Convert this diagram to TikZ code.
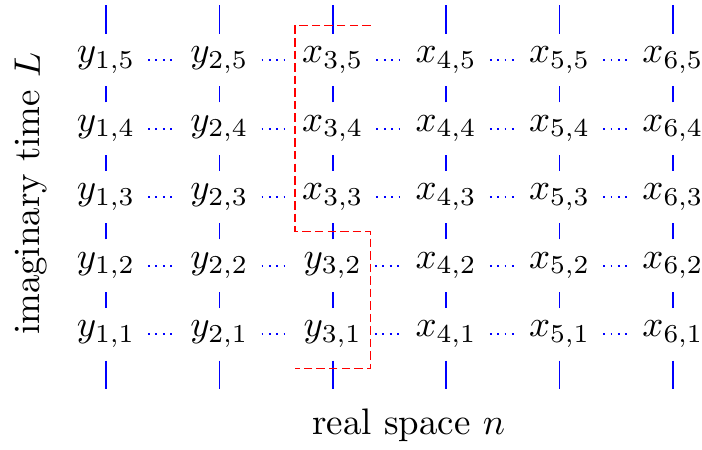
\documentclass[tikz,border=0pt]{standalone}
\begin{document}
\begin{tikzpicture}[x=1.08cm, y=0.653cm,
        site/.style={inner sep=0.3333em},
        rung/.style={draw, blue},
        link/.style={draw, blue, line width=0.5pt, dash pattern={on 0.5pt off 1.5pt}},
        cut/.style={draw, red, dash pattern={on 2.3pt off 1.1pt}}
    ]
        \useasboundingbox (-0.935,-1.679) rectangle (5.256,4.876);

        % lattice sites
        \foreach \i in {1,...,6}
            \foreach \j in {1,...,5} {
                \ifnum\i<3 \def\v{y}\else\ifnum\i=3 \ifnum\j<3 \def\v{y}\else\def\v{x}\fi\else\def\v{x}\fi\fi
                \node[site] (v\i\j) at (\i-1, \j-1) {$\v_{\i,\j}$};
            }

        % time direction
        \foreach \i in {1,...,6} {
            \coordinate (top\i) at (\i-1, 4.8);
            \coordinate (bot\i) at (\i-1, -0.8);
            \draw[rung] (top\i) -- (v\i5);
            \draw[rung] (v\i1) -- (bot\i);
            \foreach \j [evaluate=\j as \k using int(\j+1)] in {1,...,4}
                \draw[rung] (v\i\j) -- (v\i\k);
        }

        % space direction
        \foreach \i [evaluate=\i as \k using int(\i+1)] in {1,...,5}
            \foreach \j in {1,...,5}
                \draw[link] (v\i\j) -- (v\k\j);

        % boundary
        \coordinate (c1) at (2.333, 4.5);
        \coordinate (c2) at (1.667, 4.5);
        \coordinate (c3) at (1.667, 1.5);
        \coordinate (c4) at (2.333, 1.5);
        \coordinate (c5) at (2.333, -0.5);
        \coordinate (c6) at (1.667, -0.5);
        \draw[cut] (c1) -- (c2) -- (c3) -- (c4) -- (c5) -- (c6);

        \node[rotate=90] (tlabel) at (-0.661, 2.05) {imaginary time $L$};
        \node (nlabel) at (2.67, -1.33) {real space $n$};
    \end{tikzpicture}
\end{document}
